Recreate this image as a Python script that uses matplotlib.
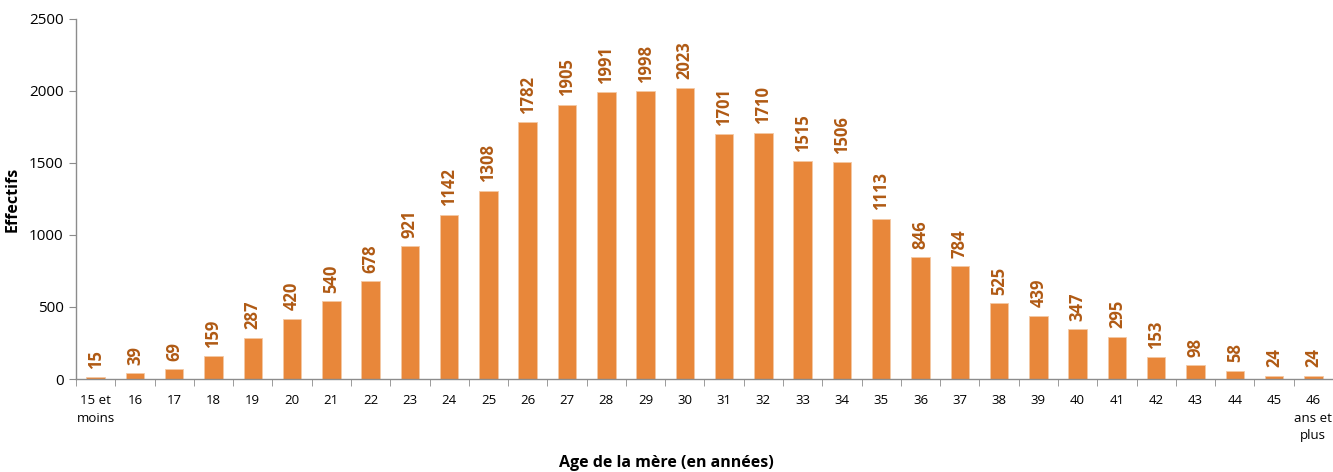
import matplotlib.pyplot as plt
import numpy as np

ages = ['15 et\nmoins'] + [str(a) for a in range(16, 46)] + ['46\nans et\nplus']
effectifs = [15, 39, 69, 159, 287, 420, 540, 678, 921, 1142, 1308, 1782, 1905, 1991,
             1998, 2023, 1701, 1710, 1515, 1506, 1113, 846, 784, 525, 439, 347, 295,
             153, 98, 58, 24, 24]

plt.rcParams['font.family'] = ['Open Sans', 'DejaVu Sans']

fig = plt.figure(figsize=(13.33, 4.72), dpi=100)
ax = fig.add_axes([0.057, 0.197, 0.943, 0.763])

x = np.arange(len(effectifs))
ax.bar(x, effectifs, width=0.47, color='#E8873A', edgecolor='#F4C9A4', linewidth=0.6, zorder=2)

for xi, v in zip(x, effectifs):
    ax.annotate(str(v), xy=(xi, v), xytext=(0, 6), textcoords='offset points',
                rotation=90, ha='center', va='bottom', fontsize=12,
                fontweight='bold', color='#B05A14')

ax.set_xlim(-0.5, len(effectifs) - 0.5)
ax.set_ylim(0, 2500)
ax.set_yticks(range(0, 2501, 500))
ax.tick_params(axis='y', labelsize=11, length=5, color='#8C8C8C', direction='out', pad=4)

# category labels centred, tick marks between categories
ax.set_xticks(x)
ax.set_xticklabels(ages, fontsize=9.5, linespacing=1.45, va='top')
ax.tick_params(axis='x', which='major', length=0, pad=11)
ax.set_xticks(np.arange(-0.5, len(effectifs), 1), minor=True)
ax.tick_params(axis='x', which='minor', length=5, color='#8C8C8C', direction='out')

for s in ['top', 'right']:
    ax.spines[s].set_visible(False)
for s in ['left', 'bottom']:
    ax.spines[s].set_color('#8C8C8C')
    ax.spines[s].set_linewidth(1.0)

ax.set_ylabel('Effectifs', fontsize=11.5, fontweight='bold', labelpad=6)
fig.text(0.5, 0.02, 'Age de la mère (en années)', ha='center', va='center',
         fontsize=11.5, fontweight='bold')

fig.savefig('out.png', dpi=100)
